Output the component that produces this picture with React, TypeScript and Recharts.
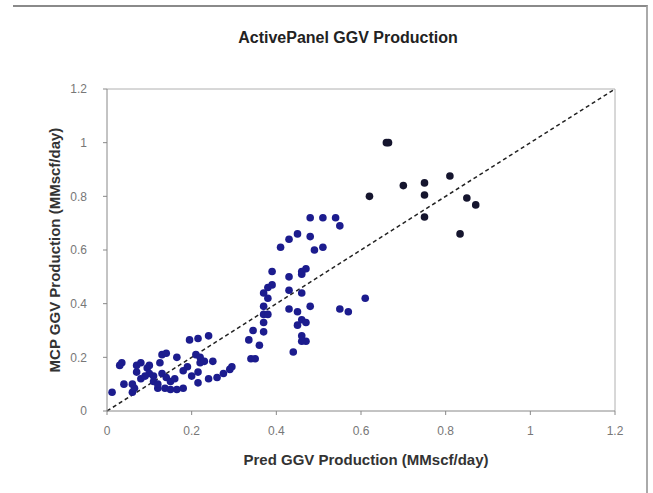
import React from 'react';
import { ScatterChart, Scatter, XAxis, YAxis, ReferenceLine } from 'recharts';

// Blue points: predicted (x) vs MCP (y)
const predBlue = [
  0.012, 0.035, 0.03, 0.04, 0.06, 0.065, 0.06, 0.07, 0.07, 0.08, 0.08, 0.095, 0.1, 0.1, 0.11, 0.11,
  0.125, 0.13, 0.14, 0.12, 0.137, 0.13, 0.15, 0.14, 0.15, 0.165, 0.165, 0.18, 0.19, 0.195, 0.215, 0.21,
  0.22, 0.215, 0.215, 0.22, 0.24, 0.23, 0.25, 0.24, 0.26, 0.275, 0.29, 0.295, 0.2, 0.18, 0.16, 0.12, 0.09,
  0.335, 0.345, 0.36, 0.34, 0.35, 0.37, 0.37, 0.37, 0.37, 0.38, 0.37, 0.38, 0.39, 0.39, 0.38,
  0.41, 0.43, 0.45, 0.48, 0.49, 0.51, 0.48, 0.51, 0.54, 0.55, 0.46, 0.46, 0.47, 0.43, 0.43, 0.46,
  0.48, 0.43, 0.45, 0.46, 0.45, 0.47, 0.47, 0.46, 0.46, 0.44, 0.55, 0.57, 0.61,
];
const mcpBlue = [
  0.07, 0.18, 0.17, 0.1, 0.07, 0.085, 0.1, 0.145, 0.17, 0.18, 0.12, 0.16, 0.14, 0.17, 0.11, 0.13,
  0.18, 0.21, 0.215, 0.085, 0.085, 0.14, 0.08, 0.125, 0.11, 0.2, 0.08, 0.085, 0.165, 0.265, 0.27, 0.21,
  0.2, 0.145, 0.105, 0.18, 0.28, 0.185, 0.185, 0.12, 0.125, 0.14, 0.155, 0.165, 0.13, 0.15, 0.12, 0.1, 0.13,
  0.265, 0.3, 0.245, 0.195, 0.195, 0.33, 0.295, 0.36, 0.39, 0.42, 0.44, 0.46, 0.47, 0.52, 0.36,
  0.61, 0.64, 0.66, 0.65, 0.6, 0.61, 0.72, 0.72, 0.72, 0.69, 0.52, 0.51, 0.53, 0.5, 0.45, 0.44,
  0.39, 0.38, 0.37, 0.34, 0.32, 0.33, 0.26, 0.26, 0.28, 0.22, 0.38, 0.37, 0.42,
];
// Dark points (upper right)
const predDark = [0.66, 0.665, 0.62, 0.7, 0.75, 0.75, 0.75, 0.81, 0.85, 0.871, 0.834];
const mcpDark = [1.0, 1.0, 0.8, 0.84, 0.85, 0.805, 0.723, 0.876, 0.794, 0.768, 0.66];

const xTicks = [0, 0.2, 0.4, 0.6, 0.8, 1, 1.2];
const yTicks = [0, 0.2, 0.4, 0.6, 0.8, 1, 1.2];

const blueData = predBlue.map((x, i) => ({ x, y: mcpBlue[i] }));
const darkData = predDark.map((x, i) => ({ x, y: mcpDark[i] }));

const dot = (color: string) => (p: any) => <circle cx={p.cx} cy={p.cy} r={3.8} fill={color} />;

const FONT = 'Arial, "Liberation Sans", sans-serif';

export default function App() {
  return (
    <div style={{ position: 'absolute', left: 0, top: 0, width: 653, height: 493, background: '#fff', fontFamily: FONT }}>
      <div style={{ position: 'absolute', left: 13, top: 5, width: 633, height: 488, borderTop: '2px solid #8a8a8a', borderRight: '2px solid #aaa' }} />
      <ScatterChart width={653} height={493} margin={{ top: 89, right: 38, bottom: 52, left: 47 }}>
        <XAxis
          type="number"
          dataKey="x"
          domain={[0, 1.2]}
          ticks={xTicks}
          allowDataOverflow
          stroke="#888"
          tickSize={4}
          tickMargin={11}
          height={30}
          tick={{ fill: '#777', fontSize: 12, fontFamily: FONT }}
        />
        <YAxis
          type="number"
          dataKey="y"
          domain={[0, 1.2]}
          ticks={yTicks}
          allowDataOverflow
          stroke="#888"
          tickSize={4}
          tickMargin={16}
          width={60}
          tick={{ fill: '#777', fontSize: 12, fontFamily: FONT }}
        />
        <ReferenceLine y={1.2} stroke="#b0b0b0" />
        <ReferenceLine x={1.2} stroke="#b0b0b0" />
        <ReferenceLine
          segment={[{ x: 0, y: 0 }, { x: 1.2, y: 1.2 }]}
          stroke="#222"
          strokeWidth={1.5}
          strokeDasharray="4 3"
        />
        <Scatter data={blueData} isAnimationActive={false} shape={dot('#1c1c8e')} />
        <Scatter data={darkData} isAnimationActive={false} shape={dot('#15152e')} />
      </ScatterChart>
      <svg width={653} height={493} style={{ position: 'absolute', left: 0, top: 0, pointerEvents: 'none' }}>
        <text x={348} y={43} textAnchor="middle" fontSize={16} fontWeight="bold" fill="#222" fontFamily={FONT}>
          ActivePanel GGV Production
        </text>
        <text x={366} y={465} textAnchor="middle" fontSize={15} fontWeight="bold" fill="#333" fontFamily={FONT}>
          Pred GGV Production (MMscf/day)
        </text>
        <text
          transform="translate(60,250) rotate(-90)"
          textAnchor="middle"
          fontSize={15}
          fontWeight="bold"
          fill="#333"
          fontFamily={FONT}
        >
          MCP GGV Production  (MMscf/day)
        </text>
      </svg>
    </div>
  );
}
